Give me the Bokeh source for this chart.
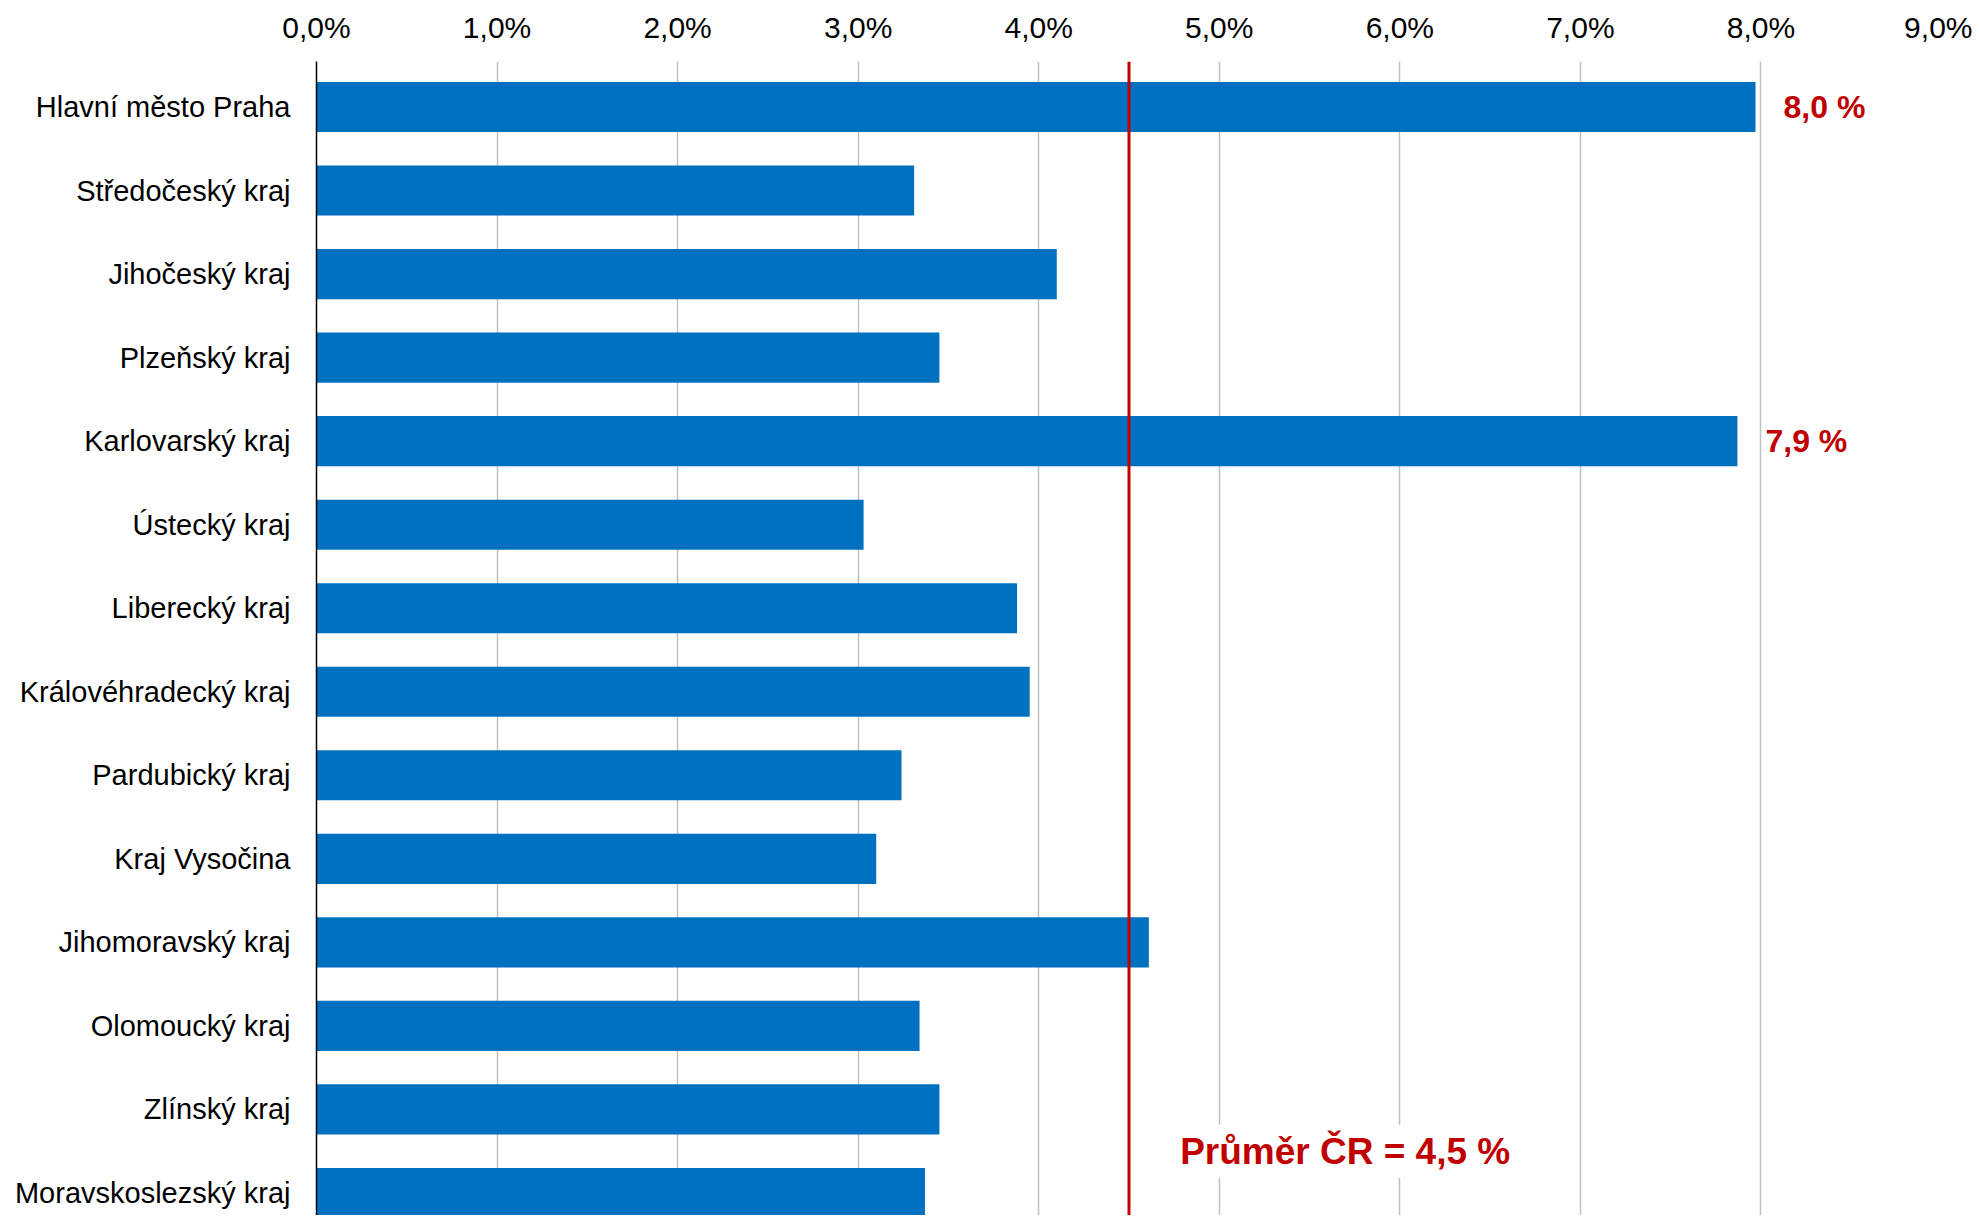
from bokeh.plotting import figure
from bokeh.models import Range1d, FixedTicker, ColumnDataSource, Span, Label
from bokeh.core.properties import value
from bokeh.embed import file_html
from bokeh.resources import INLINE

regions = ["Hlavní město Praha", "Středočeský kraj", "Jihočeský kraj", "Plzeňský kraj",
           "Karlovarský kraj", "Ústecký kraj", "Liberecký kraj", "Královéhradecký kraj",
           "Pardubický kraj", "Kraj Vysočina", "Jihomoravský kraj", "Olomoucký kraj",
           "Zlínský kraj", "Moravskoslezský kraj"]
shares = [7.97, 3.31, 4.10, 3.45, 7.87, 3.03, 3.88, 3.95, 3.24, 3.10, 4.61, 3.34, 3.45, 3.37]
bar_labels = ["8,0 %", "", "", "", "7,9 %", "", "", "", "", "", "", "", "", ""]
tick_values = [0, 1, 2, 3, 4, 5, 6, 7, 8, 9]
tick_labels = ["0,0%", "1,0%", "2,0%", "3,0%", "4,0%", "5,0%", "6,0%", "7,0%", "8,0%", "9,0%"]
avg = 4.5
avg_label = "Průměr ČR = 4,5 %"

FONT = "Liberation Sans"
RED = "#c00000"
BLUE = "#0070c0"

idx = list(range(len(regions)))
src = ColumnDataSource(dict(y=idx, v=shares, lab=bar_labels))

p = figure(width=1972, height=1215, output_backend="svg", toolbar_location=None,
           x_range=Range1d(0, 9), y_range=Range1d(13.27, -0.545),
           x_axis_location="above",
           min_border_left=316, min_border_right=31, min_border_top=61, min_border_bottom=0)
p.outline_line_color = None
p.background_fill_color = "white"
p.border_fill_color = "white"

p.hbar(y="y", right="v", left=0, height=0.6, source=src, fill_color=BLUE, line_color=None)

p.add_layout(Span(location=avg, dimension="height", line_color=RED, line_width=3))

p.text(x="v", y="y", text="lab", source=src, x_offset=28,
       text_baseline="middle", text_align="left", text_color=RED,
       text_font=value(FONT), text_font_style="bold", text_font_size="32px")

p.add_layout(Label(x=avg + 0.25, y=12.5, text=avg_label, text_baseline="middle", text_align="left",
                   text_color=RED, text_font=FONT, text_font_style="bold",
                   text_font_size="37px", background_fill_color="white", padding=6))

xa = p.xaxis[0]
xa.ticker = FixedTicker(ticks=tick_values)
xa.major_label_overrides = {t: l for t, l in zip(tick_values, tick_labels)}
xa.axis_line_color = None
xa.major_tick_line_color = None
xa.minor_tick_line_color = None
xa.major_label_text_font = FONT
xa.major_label_text_font_size = "30px"
xa.major_label_text_color = "black"
xa.major_label_standoff = 12

ya = p.yaxis[0]
ya.ticker = FixedTicker(ticks=idx)
ya.major_label_overrides = {i: r for i, r in zip(idx, regions)}
ya.axis_line_color = "black"
ya.axis_line_width = 1.5
ya.major_tick_line_color = None
ya.minor_tick_line_color = None
ya.major_label_text_font = FONT
ya.major_label_text_font_size = "29px"
ya.major_label_text_color = "black"
ya.major_label_standoff = 20

p.xgrid.ticker = FixedTicker(ticks=tick_values)
p.xgrid.grid_line_color = "#c0c0c0"
p.xgrid.grid_line_width = 1.5
p.ygrid.grid_line_color = None

open("out.html", "w").write(file_html(p, INLINE))
